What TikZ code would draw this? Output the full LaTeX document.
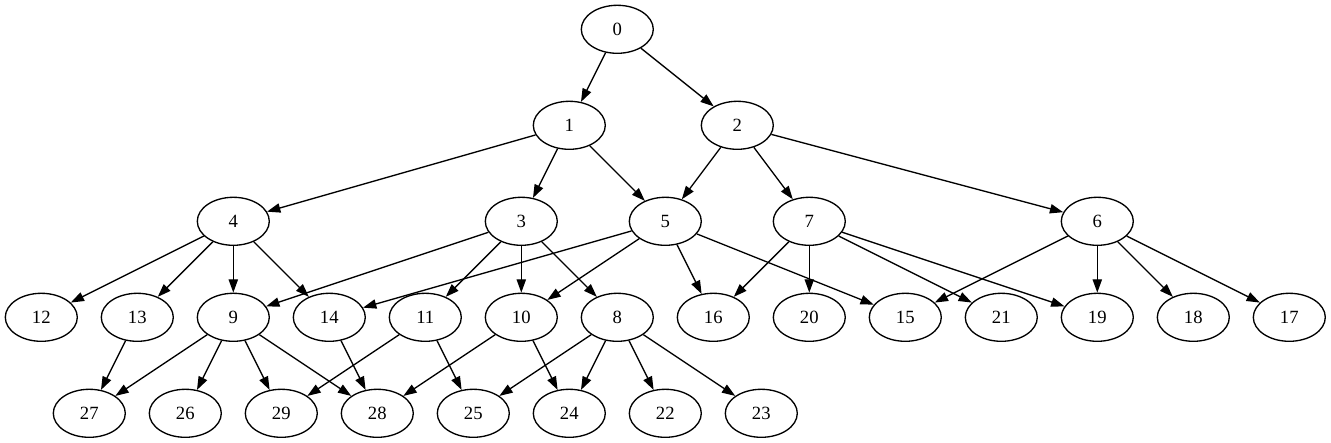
\documentclass[tikz,border=0pt]{standalone}
\usepackage{fontspec}
\setmainfont{Liberation Serif}
\usetikzlibrary{arrows.meta,shapes.geometric}
\tikzstyle{treePicture} = [x = 1pt, y = -1pt]
\tikzstyle{treeNodeStyle} = [draw, ellipse, line width = 1.33pt, minimum width = 72pt, minimum height = 48pt, inner sep = 0pt, font = \fontsize{18.67}{22}\selectfont]
\tikzstyle{treeEdge} = [line width = 1.33pt, -{Triangle[length = 13.3pt, width = 9.3pt]}]
\newcommand{\treeNode}[3]{\node [treeNodeStyle] (n#1) at (#2, #3) {#1};}
\newcommand{\treeRow}[2]{
  \foreach \name/\xpos in {#2} {
    \treeNode{\name}{\xpos}{#1}
  }
}

\begin{document}
\begin{tikzpicture}[treePicture]
  \useasboundingbox (0,0) rectangle (1331,443);
  \treeRow{29.3}{0/617.3}
  \treeRow{125.3}{1/569.3, 2/737.3}
  \treeRow{221.3}{4/233.3, 3/521.3, 5/665.3, 7/809.3, 6/1097.3}
  \treeRow{317.3}{12/41.3, 13/137.3, 9/233.3, 14/329.3, 11/425.3, 10/521.3, 8/617.3, 16/713.3, 20/809.3, 15/905.3, 21/1001.3, 19/1097.3, 18/1193.3, 17/1289.3}
  \treeRow{413.3}{27/89.3, 26/185.3, 29/281.3, 28/377.3, 25/473.3, 24/569.3, 22/665.3, 23/761.3}

  \foreach \from/\to in {0/1, 0/2, 1/4, 1/3, 1/5, 2/5, 2/7, 2/6,
      4/12, 4/13, 4/9, 4/14, 3/9, 3/11, 3/10, 3/8,
      5/14, 5/10, 5/16, 5/15, 7/16, 7/20, 7/21, 7/19,
      6/15, 6/19, 6/18, 6/17, 13/27, 9/27, 9/26, 9/29, 9/28,
      14/28, 11/29, 11/25, 10/28, 10/24, 8/25, 8/24, 8/22, 8/23} {
    \draw [treeEdge] (n\from) -- (n\to);
  }
\end{tikzpicture}
\end{document}
